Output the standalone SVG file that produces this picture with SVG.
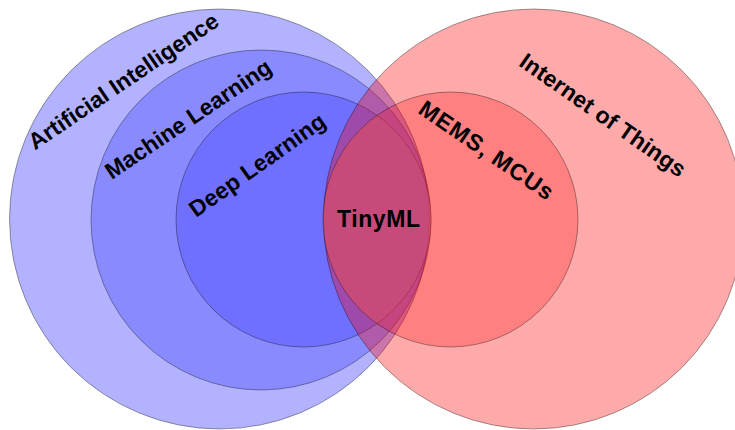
<svg xmlns="http://www.w3.org/2000/svg" width="735" height="430" viewBox="0 0 735 430">
<style>
.c{stroke:#000;stroke-opacity:0.45;stroke-width:0.8}
.b{fill:#0000ff}
.r{fill:#ff0000}
.t{font-family:"Liberation Sans",Arial,sans-serif;font-weight:bold;font-size:23px;fill:#000}
</style>
<defs>
<clipPath id="memsClip"><circle cx="450.5" cy="219.5" r="127.5"/></clipPath>
</defs>
<rect width="735" height="430" fill="#fff"/>
<g id="ai"><circle class="c b" cx="219.5" cy="219" r="210" fill-opacity="0.3"/></g>
<g id="ml"><circle class="c b" cx="261" cy="220" r="170" fill-opacity="0.225"/></g>
<g id="dl"><circle class="c b" cx="303.5" cy="219.5" r="127.5" fill-opacity="0.19"/></g>
<g id="iot"><circle class="c r" cx="533.5" cy="219" r="210" fill-opacity="0.333"/></g>
<g id="mems"><circle class="c r" cx="450.5" cy="219.5" r="127.5" fill-opacity="0.247"/></g>
<g id="tinyml">
<circle cx="303.5" cy="219.5" r="127.5" fill="#ff8c64" fill-opacity="0.236" clip-path="url(#memsClip)"/>
<text class="t" x="337" y="227" textLength="83">TinyML</text>
</g>
<g id="labels">
<text class="t" x="35" y="150.5" transform="rotate(-34.1 35 150.5)" textLength="224">Artificial Intelligence</text>
<text class="t" x="111.7" y="180" transform="rotate(-33.9 111.7 180)" textLength="195">Machine Learning</text>
<text class="t" x="196" y="218" transform="rotate(-35.3 196 218)" textLength="161">Deep Learning</text>
<text class="t" x="517.7" y="65" transform="rotate(35 517.7 65)" textLength="197">Internet of Things</text>
<text class="t" x="417" y="112.5" transform="rotate(34.3 417 112.5)" textLength="157">MEMS, MCUs</text>
</g>
</svg>
